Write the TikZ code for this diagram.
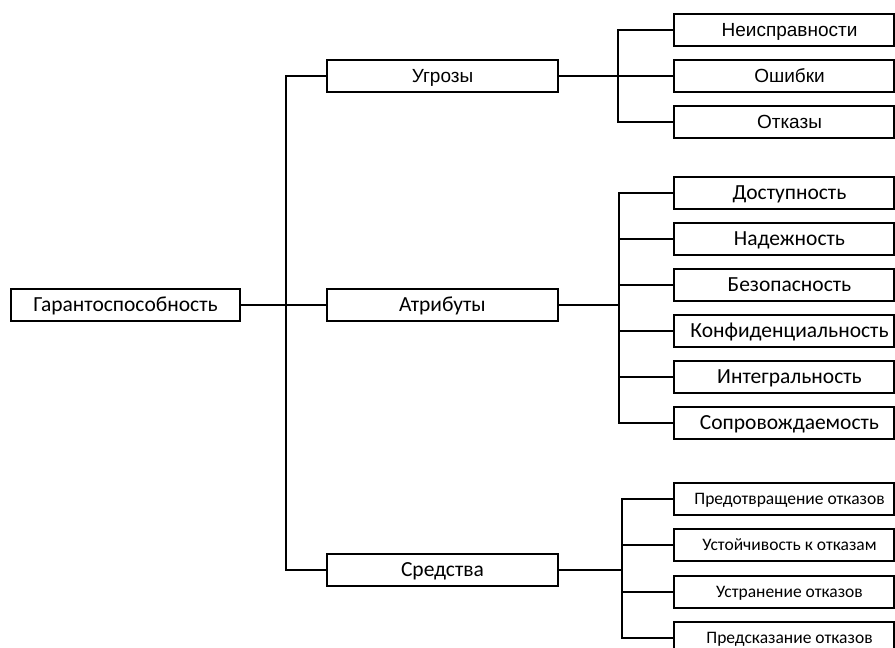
\documentclass[tikz,border=0pt]{standalone}
\usepackage{fontspec}
\setmainfont{Carlito}
\newfontfamily\arialf{Liberation Sans}
\begin{document}
\begin{tikzpicture}[x=1pt,y=-1pt,
  box/.style={draw, line width=2pt, minimum height=32pt, inner sep=0pt, fill=white},
  mainf/.style={font=\fontsize{21.5}{21.5}\selectfont, text height=13.8pt, text depth=0pt},
  arf/.style={font=\arialf\fontsize{19}{19}\selectfont, text height=13.6pt, text depth=0pt},
  smallf/.style={font=\fontsize{17.5}{17.5}\selectfont, text height=11.3pt, text depth=0pt},
  lone/.style={box, minimum width=231pt},
  leaf/.style={box, minimum width=220pt},
  conn/.style={line width=2pt}]
\useasboundingbox (0,0) rectangle (895,648);
\clip (0,0) rectangle (895,648);
% root and level 1
\node[box, mainf, minimum width=229pt] (root) at (125.5,305) {Гарантоспособность};
\node[lone, arf] (thr) at (442.5,76) {Угрозы};
\node[lone, mainf] (att) at (442.5,305) {Атрибуты};
\node[lone, mainf] (mea) at (442.5,570) {Средства};
% threats
\node[leaf, arf] (t1) at (784,30) {\hspace*{11pt}Неисправности};
\node[leaf, arf] (t2) at (784,76) {\hspace*{11pt}Ошибки};
\node[leaf, arf] (t3) at (784,122) {\hspace*{11pt}Отказы};
% attributes
\node[leaf, mainf] (a1) at (784,193) {\hspace*{11pt}Доступность};
\node[leaf, mainf] (a2) at (784,239) {\hspace*{11pt}Надежность};
\node[leaf, mainf] (a3) at (784,285) {\hspace*{11pt}Безопасность};
\node[leaf, mainf] (a4) at (784,331) {\hspace*{11pt}Конфиденциальность};
\node[leaf, mainf] (a5) at (784,377) {\hspace*{11pt}Интегральность};
\node[leaf, mainf] (a6) at (784,423) {\hspace*{11pt}Сопровождаемость};
% means
\node[leaf, smallf] (m1) at (784,499) {\hspace*{11pt}Предотвращение отказов};
\node[leaf, smallf] (m2) at (784,545) {\hspace*{11pt}Устойчивость к отказам};
\node[leaf, smallf] (m3) at (784,592) {\hspace*{11pt}Устранение отказов};
\node[leaf, smallf] (m4) at (784,638) {\hspace*{11pt}Предсказание отказов};
% bus coordinates
\coordinate (bt) at (286,0);
\coordinate (b1) at (618,0);
\coordinate (b2) at (619,0);
\coordinate (b3) at (622,0);
% trunk
\draw[conn] (root.east) -- (att.west);
\draw[conn] (thr.west) -- (thr.west -| bt) -- (mea.west -| bt) -- (mea.west);
% threats bus
\draw[conn] (thr.east) -- (t2.west);
\draw[conn] (t1.west) -- (t1.west -| b1) -- (t3.west -| b1) -- (t3.west);
% attributes bus
\draw[conn] (att.east) -- (att.east -| b2);
\draw[conn] (a1.west) -- (a1.west -| b2) -- (a6.west -| b2) -- (a6.west);
\foreach \n in {a2,a3,a4,a5} \draw[conn] (\n.west) -- (\n.west -| b2);
% means bus
\draw[conn] (mea.east) -- (mea.east -| b3);
\draw[conn] (m1.west) -- (m1.west -| b3) -- (m4.west -| b3) -- (m4.west);
\foreach \n in {m2,m3} \draw[conn] (\n.west) -- (\n.west -| b3);
\end{tikzpicture}
\end{document}
